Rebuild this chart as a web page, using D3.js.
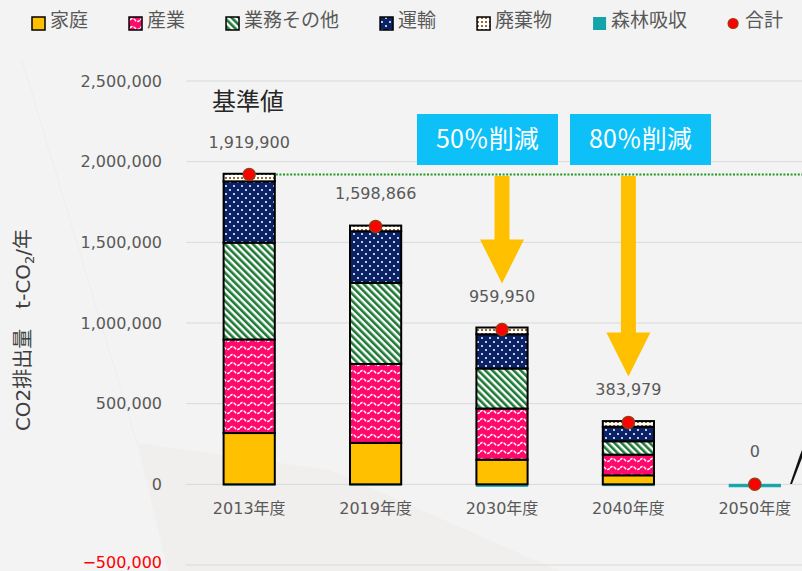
<!DOCTYPE html>
<html>
<head>
<meta charset="utf-8">
<style>
  body { margin: 0; background: #f3f3f3; }
  svg { display: block; font-family: "DejaVu Sans", "Noto Sans CJK JP", sans-serif; }
  .tick text { fill: #595959; font-size: 16px; font-family: "DejaVu Sans", "Noto Sans CJK JP", sans-serif; }
  .legend text { fill: #595959; font-size: 19px; }
</style>
</head>
<body>
<script src="https://cdn.jsdelivr.net/npm/d3@7"></script>
<script>
// chart data
var categories = ["2013年度", "2019年度", "2030年度", "2040年度", "2050年度"];
var household  = [318000, 257000, 153000, 56000, 0];
var industry   = [580000, 489000, 317000, 128000, 0];
var business   = [600000, 503000, 248000, 83000, 0];
var transport  = [380000, 320000, 212000, 90000, 0];
var waste      = [47000, 34866, 41950, 34979, 0];
var forest     = [-5100, -5000, -12000, -8000, -15000];
var totals     = [1919900, 1598866, 959950, 383979, 0];
var seriesNames = ["家庭", "産業", "業務その他", "運輸", "廃棄物", "森林吸収", "合計"];
var yTicks = [-500000, 0, 500000, 1000000, 1500000, 2000000, 2500000];

var width = 802, height = 571;

var svg = d3.select("body").append("svg")
  .attr("width", width)
  .attr("height", height);

// patterns
var defs = svg.append("defs");

var pInd = defs.append("pattern").attr("id", "pInd")
  .attr("patternUnits", "userSpaceOnUse").attr("width", 10).attr("height", 8);
pInd.append("rect").attr("width", 10).attr("height", 8).attr("fill", "#ff0a6c");
pInd.append("path").attr("d", "M0,4 Q2.5,1 5,4 T10,4")
  .attr("fill", "none").attr("stroke", "#fff").attr("stroke-width", 1.3)
  .attr("stroke-dasharray", "3,1.2");

var pBus = defs.append("pattern").attr("id", "pBus")
  .attr("patternUnits", "userSpaceOnUse").attr("width", 5).attr("height", 5)
  .attr("patternTransform", "rotate(-45)");
pBus.append("rect").attr("width", 5).attr("height", 5).attr("fill", "#fff");
pBus.append("rect").attr("width", 2.6).attr("height", 5).attr("fill", "#1d7a35");

var pTra = defs.append("pattern").attr("id", "pTra")
  .attr("patternUnits", "userSpaceOnUse").attr("width", 8).attr("height", 8);
pTra.append("rect").attr("width", 8).attr("height", 8).attr("fill", "#0b2366");
pTra.append("circle").attr("cx", 2).attr("cy", 2).attr("r", 1).attr("fill", "#fff");
pTra.append("circle").attr("cx", 6).attr("cy", 6).attr("r", 1).attr("fill", "#fff");

var pWas = defs.append("pattern").attr("id", "pWas")
  .attr("patternUnits", "userSpaceOnUse").attr("width", 4).attr("height", 4);
pWas.append("rect").attr("width", 4).attr("height", 4).attr("fill", "#fff");
pWas.append("rect").attr("x", 1).attr("y", 1).attr("width", 2).attr("height", 2).attr("fill", "#a0652c");

var fills = ["#ffc000", "url(#pInd)", "url(#pBus)", "url(#pTra)", "url(#pWas)", "#12a3ab"];

// faint background shapes
svg.append("polygon")
  .attr("points", "137,443 330,470 560,571 168,571")
  .attr("fill", "#f1eeee");
svg.append("line")
  .attr("x1", 22).attr("y1", 60).attr("x2", 137).attr("y2", 443)
  .attr("stroke", "#ededed");

// scales
var x = d3.scaleBand().domain(categories).range([186, 818]);
var y = d3.scaleLinear().domain([-500000, 2500000]).range([565, 81]);
var barW = x.bandwidth() * 0.405;
var cx = function(c) { return x(c) + x.bandwidth() / 2; };

// gridlines
svg.append("g").selectAll("line").data(yTicks).enter().append("line")
  .attr("x1", 186).attr("x2", width)
  .attr("y1", function(d) { return y(d); }).attr("y2", function(d) { return y(d); })
  .attr("stroke", "#d9d9d9").attr("stroke-width", 1);

// y axis
var yAxis = svg.append("g")
  .attr("transform", "translate(186,0)")
  .call(d3.axisLeft(y).tickValues(yTicks).tickFormat(d3.format(",")).tickSize(0).tickPadding(24));
yAxis.select(".domain").remove();
yAxis.selectAll("text")
  .style("fill", function(d) { return d < 0 ? "#ff0000" : "#595959"; })
  .attr("y", function(d) { return d < 0 ? -3 : 0; });

// x axis
var xAxis = svg.append("g")
  .attr("transform", "translate(0," + y(0) + ")")
  .call(d3.axisBottom(x).tickSize(0).tickPadding(18));
xAxis.select(".domain").remove();

// y axis title
var yt = svg.append("text")
  .attr("transform", "translate(30,330) rotate(-90)")
  .attr("text-anchor", "middle")
  .style("font-size", "20px").style("fill", "#404040");
yt.append("tspan").text("CO2排出量　t-CO");
yt.append("tspan").attr("dy", 4).style("font-size", "13px").text("2");
yt.append("tspan").attr("dy", -4).text("/年");

// stacked bars
var rows = categories.map(function(c, i) {
  return { cat: c, household: household[i], industry: industry[i], business: business[i],
           transport: transport[i], waste: waste[i] };
});
var keys = ["household", "industry", "business", "transport", "waste"];
var stack = d3.stack().keys(keys)(rows);

// forest absorption (negative)
svg.append("g").selectAll("rect").data(categories).enter().append("rect")
  .attr("x", function(d) { return cx(d) - barW / 2; })
  .attr("y", y(0))
  .attr("width", barW)
  .attr("height", function(d, i) { return y(forest[i]) - y(0); })
  .attr("fill", fills[5]).attr("stroke", fills[5]).attr("stroke-width", 1);

var layers = svg.append("g").selectAll("g").data(stack).enter().append("g")
  .attr("fill", function(d, i) { return fills[i]; });
layers.selectAll("rect")
  .data(function(d) { return d.filter(function(p) { return p[1] - p[0] > 0; }); })
  .enter().append("rect")
  .attr("x", function(d) { return cx(d.data.cat) - barW / 2; })
  .attr("y", function(d) { return y(d[1]); })
  .attr("width", barW)
  .attr("height", function(d) { return y(d[0]) - y(d[1]); })
  .attr("stroke", "#000").attr("stroke-width", 2);

// baseline reference dotted line
svg.append("line")
  .attr("x1", cx(categories[0]) + barW / 2 + 1).attr("x2", width)
  .attr("y1", y(totals[0])).attr("y2", y(totals[0]))
  .attr("stroke", "#1f9a1f").attr("stroke-width", 2).attr("stroke-dasharray", "2,1.6");

// total markers
svg.append("g").selectAll("circle").data(categories).enter().append("circle")
  .attr("cx", function(d) { return cx(d); })
  .attr("cy", function(d, i) { return y(totals[i]); })
  .attr("r", 6)
  .attr("fill", "#ff0000").attr("stroke", "#9a3b12").attr("stroke-width", 1.5);

// total labels
svg.append("g").selectAll("text").data(categories).enter().append("text")
  .attr("x", function(d) { return cx(d); })
  .attr("y", function(d, i) { return y(totals[i]) - 27; })
  .attr("text-anchor", "middle")
  .style("font-size", "16px").style("fill", "#595959")
  .text(function(d, i) { return d3.format(",")(totals[i]); });

svg.append("text")
  .attr("x", 212).attr("y", 110)
  .style("font-size", "24px").style("fill", "#262626")
  .text("基準値");

// reduction callouts
function callout(bx, label, tipCat, tipVal) {
  svg.append("rect").attr("x", bx).attr("y", 114).attr("width", 141).attr("height", 51)
    .attr("fill", "#0dc0f7");
  svg.append("text").attr("x", bx + 70.5).attr("y", 148)
    .attr("text-anchor", "middle")
    .style("font-family", "'Noto Sans CJK JP', sans-serif")
    .style("font-size", "25px").style("fill", "#fff")
    .text(label);
  var ax = cx(tipCat), tip = y(tipVal) - 46, head = tip - 44;
  svg.append("path")
    .attr("d", "M" + (ax - 7.5) + ",176 L" + (ax + 7.5) + ",176 L" + (ax + 7.5) + "," + head +
      " L" + (ax + 22) + "," + head + " L" + ax + "," + tip + " L" + (ax - 22) + "," + head +
      " L" + (ax - 7.5) + "," + head + "Z")
    .attr("fill", "#ffc000");
}
callout(417, "50％削減", categories[2], totals[2]);
callout(570, "80％削減", categories[3], totals[3]);

// pointer fragment at the right edge
svg.append("polygon").attr("points", "790,484 800,455 802,450 802,458 792,484").attr("fill", "#111");

// legend
var legend = svg.append("g").attr("class", "legend");
var lx = 32;
seriesNames.forEach(function(name, i) {
  if (i < 6) {
    legend.append("rect").attr("x", lx).attr("y", 17).attr("width", 13).attr("height", 13)
      .attr("fill", fills[i])
      .attr("stroke", i < 5 ? "#000" : "none").attr("stroke-width", 1.5);
  } else {
    legend.append("circle").attr("cx", lx + 5).attr("cy", 23.5).attr("r", 5)
      .attr("fill", "#ff0000").attr("stroke", "#9a3b12").attr("stroke-width", 1.2);
  }
  var t = legend.append("text").attr("x", lx + (i < 6 ? 18 : 17)).attr("y", 27).text(name);
  lx = lx + (i < 6 ? 18 : 17) + t.node().getComputedTextLength() + 41;
});
</script>
</body>
</html>
